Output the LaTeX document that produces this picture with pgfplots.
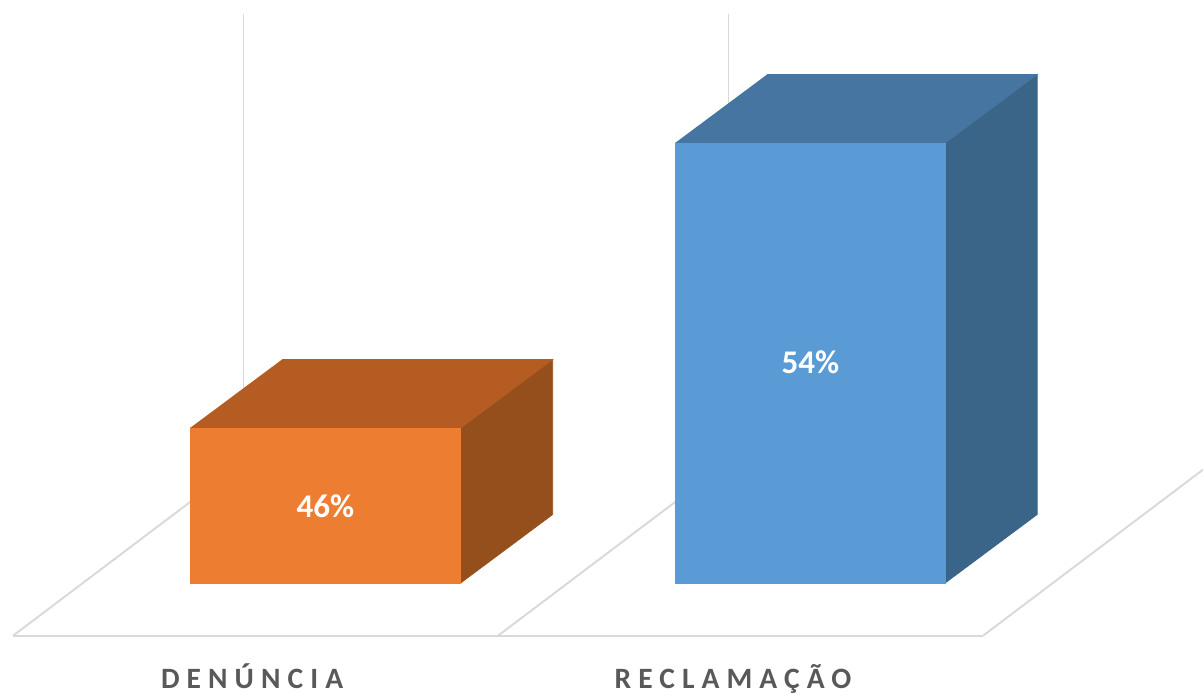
\documentclass[border=0pt]{standalone}
\usepackage{pgfplots}
\pgfplotsset{compat=1.18}
\usepackage{fontspec}
\setmainfont{Carlito}
\newfontfamily\catfont[LetterSpace=24]{Carlito}
\definecolor{orF}{HTML}{ED7D31}
\definecolor{orT}{HTML}{B45C22}
\definecolor{orS}{HTML}{954F1D}
\definecolor{blF}{HTML}{5B9BD5}
\definecolor{blT}{HTML}{4575A0}
\definecolor{blS}{HTML}{3A6488}
\definecolor{gridc}{HTML}{D9D9D9}
\definecolor{lbl}{HTML}{595959}
\begin{document}
\begin{tikzpicture}
\begin{axis}[scale only axis, width=12.03cm, height=6.95cm, hide axis,
  xmin=-0.0268, xmax=2.4536, ymin=38.506, ymax=58.015]
% floor
\addplot[gridc, line width=0.55pt] coordinates {(0,40.17) (2,40.17)};
\addplot[gridc, line width=0.55pt] coordinates {(0,40.17) (0.4753,45.054)};
\addplot[gridc, line width=0.55pt] coordinates {(1,40.17) (1.4753,45.054)};
\addplot[gridc, line width=0.55pt] coordinates {(2,40.17) (2.4753,45.054)};
% back wall gridlines
\addplot[gridc, line width=0.5pt] coordinates {(0.4753,45.054) (0.4753,57.62)};
\addplot[gridc, line width=0.5pt] coordinates {(1.4753,45.054) (1.4753,57.62)};
\addplot[gridc, line width=0.5pt] coordinates {(2.4753,45.054) (2.4753,57.62)};
% DENUNCIA bar: 46
\addplot[draw=orS, line width=0.2pt, fill=orS] coordinates {(0.923,41.65) (1.1127,43.573) (1.1127,47.923) (0.923,46)};
\addplot[draw=orT, line width=0.2pt, fill=orT] coordinates {(0.365,46) (0.923,46) (1.1127,47.923) (0.5547,47.923)};
\addplot[draw=orF, line width=0.2pt, fill=orF] coordinates {(0.365,41.65) (0.923,41.65) (0.923,46) (0.365,46)};
% RECLAMACAO bar: 54
\addplot[draw=blS, line width=0.2pt, fill=blS] coordinates {(1.922,41.65) (2.1117,43.573) (2.1117,55.923) (1.922,54)};
\addplot[draw=blT, line width=0.2pt, fill=blT] coordinates {(1.365,54) (1.922,54) (2.1117,55.923) (1.5547,55.923)};
\addplot[draw=blF, line width=0.2pt, fill=blF] coordinates {(1.365,41.65) (1.922,41.65) (1.922,54) (1.365,54)};
% value labels
\node[anchor=base, text=white, font=\bfseries\fontsize{9.4}{11}\selectfont] at (axis cs:0.644,43.475) {46\%};
\node[anchor=base, text=white, font=\bfseries\fontsize{9.4}{11}\selectfont] at (axis cs:1.644,47.517) {54\%};
% category labels
\node[anchor=base, text=lbl, font=\catfont\bfseries\fontsize{8.4}{10}\selectfont] at (axis cs:0.493,38.70) {DENÚNCIA};
\node[anchor=base, text=lbl, font=\catfont\bfseries\fontsize{8.4}{10}\selectfont] at (axis cs:1.4845,38.70) {RECLAMAÇÃO};
\end{axis}
\path (current axis.south west) rectangle (current axis.north east);
\end{tikzpicture}
\end{document}
